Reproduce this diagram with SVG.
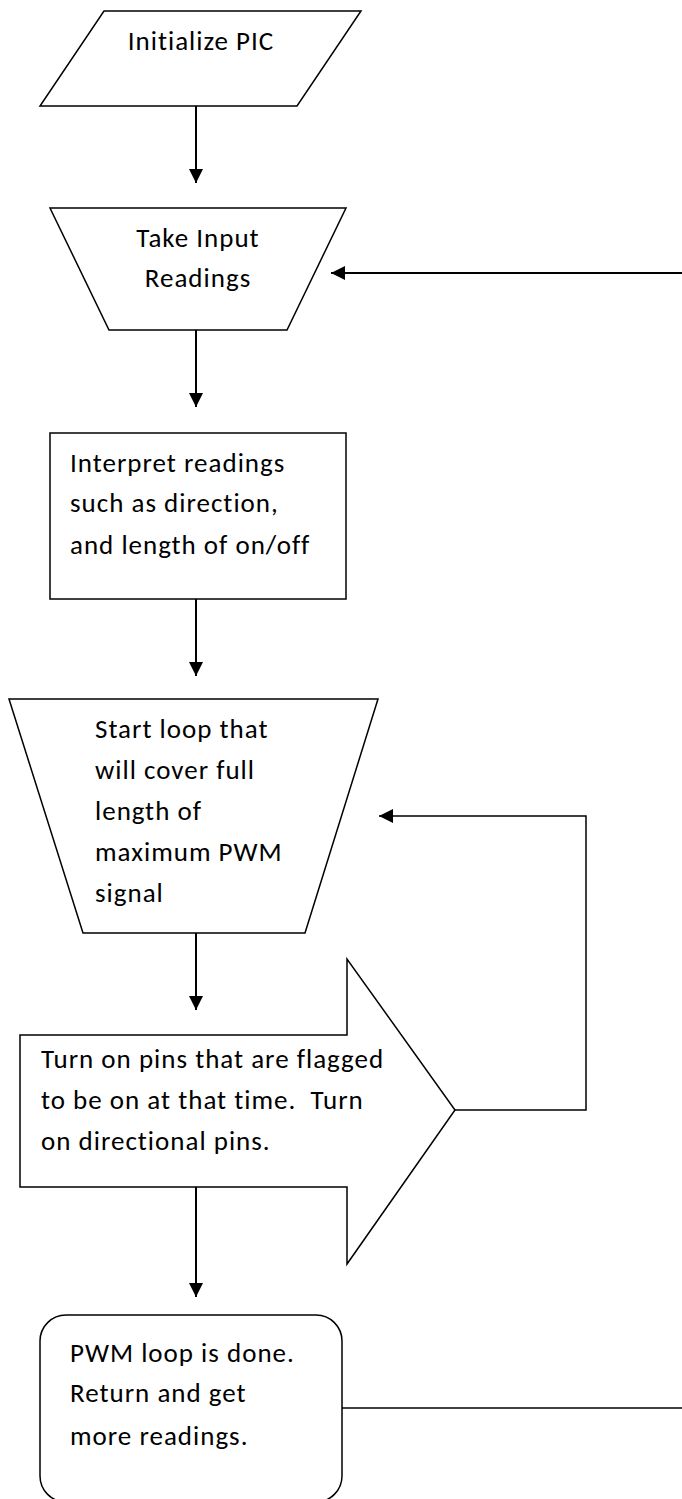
<svg xmlns="http://www.w3.org/2000/svg" width="682" height="1499" viewBox="0 0 682 1499">
<defs>
<marker id="ah" markerWidth="14" markerHeight="14" viewBox="0 0 14 14" refX="14" refY="7" orient="auto" markerUnits="userSpaceOnUse">
<path d="M0,0 L14,7 L0,14 Z" fill="#000"/>
</marker>
<style>
.n{fill:#fff;stroke:#000;stroke-width:1.5}
.c{fill:none;stroke:#000;stroke-width:2}
.t{font-family:Calibri,Carlito,Lato,"Liberation Sans",sans-serif;font-size:27px;letter-spacing:1px;font-variant-ligatures:none;fill:#000}
</style>
</defs>
<rect width="682" height="1499" fill="#fff"/>
<g id="init">
<polygon class="n" points="104,11 361,11 297,106 40,106"/>
<text class="t" x="201" y="50" text-anchor="middle">Initialize PIC</text>
</g>
<g id="input">
<polygon class="n" points="50,208 346,208 287,330 109,330"/>
<text class="t" x="198" y="247" text-anchor="middle">Take Input</text>
<text class="t" x="198" y="287" text-anchor="middle">Readings</text>
</g>
<g id="interpret">
<rect class="n" x="50" y="433" width="296" height="166"/>
<text class="t" x="70" y="472">Interpret readings</text>
<text class="t" x="70" y="512">such as direction,</text>
<text class="t" x="70" y="554">and length of on/off</text>
</g>
<g id="startloop">
<polygon class="n" points="9,699 378,699 305,933 83,933"/>
<text class="t" x="95" y="738">Start loop that</text>
<text class="t" x="95" y="779">will cover full</text>
<text class="t" x="95" y="820">length of</text>
<text class="t" x="95" y="861">maximum PWM</text>
<text class="t" x="95" y="902">signal</text>
</g>
<g id="turnon">
<polygon class="n" points="20,1035 347,1035 347,959 455,1110 347,1264 347,1187 20,1187"/>
<text class="t" x="41" y="1068">Turn on pins that are flagged</text>
<text class="t" x="41" y="1109" xml:space="preserve">to be on at that time.  Turn</text>
<text class="t" x="41" y="1150">on directional pins.</text>
</g>
<g id="done">
<rect class="n" x="40" y="1315" width="302" height="187" rx="26" ry="26"/>
<text class="t" x="70" y="1362">PWM loop is done.</text>
<text class="t" x="70" y="1402">Return and get</text>
<text class="t" x="70" y="1445">more readings.</text>
</g>
<g id="connectors">
<line class="c" x1="196" y1="106" x2="196" y2="183" marker-end="url(#ah)"/>
<line class="c" x1="196" y1="330" x2="196" y2="407" marker-end="url(#ah)"/>
<line class="c" x1="196" y1="599" x2="196" y2="676" marker-end="url(#ah)"/>
<line class="c" x1="196" y1="933" x2="196" y2="1010" marker-end="url(#ah)"/>
<line class="c" x1="196" y1="1187" x2="196" y2="1297" marker-end="url(#ah)"/>
<line class="c" x1="682" y1="273" x2="331" y2="273" marker-end="url(#ah)"/>
<polyline class="c" points="455,1110 586,1110 586,816 379,816" marker-end="url(#ah)" style="stroke-width:1.5"/>
<line class="c" x1="342" y1="1408" x2="682" y2="1408" style="stroke-width:1.5"/>
</g>
</svg>
